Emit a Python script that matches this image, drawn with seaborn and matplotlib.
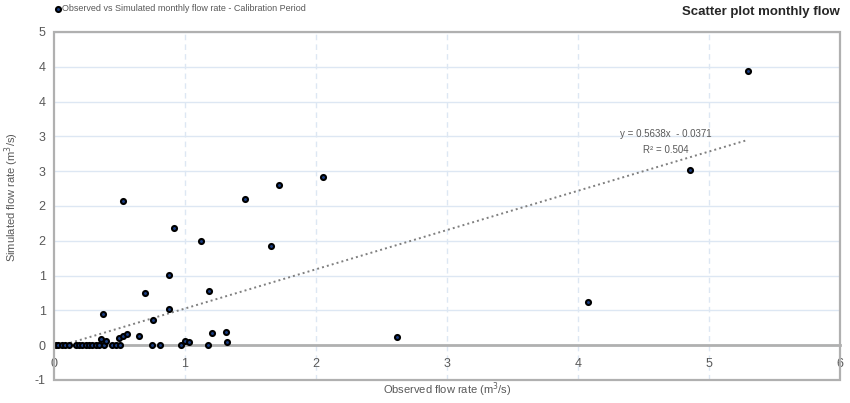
import numpy as np
import pandas as pd
import matplotlib
matplotlib.use("Agg")
import matplotlib.pyplot as plt
from matplotlib.patches import Rectangle
import seaborn as sns

# Monthly flow rates for the calibration period (m3/s)
observed = [0.013, 0.033, 0.059, 0.084, 0.115, 0.171, 0.191, 0.211, 0.247, 0.267,
            0.293, 0.318, 0.343, 0.385, 0.446, 0.471, 0.502, 0.746, 0.810, 0.973,
            1.178, 0.359, 0.395, 0.496, 0.527, 0.560, 0.652, 0.753, 0.372, 0.878,
            0.695, 1.186, 0.876, 1.122, 1.659, 0.916, 0.530, 1.458, 1.720, 2.056,
            4.860, 5.300, 4.076, 2.616, 1.206, 1.316, 1.323, 1.000, 1.030]
simulated = [0.0, 0.0, 0.0, 0.0, 0.0, 0.0, 0.0, 0.0, 0.0, 0.0,
             0.0, 0.0, 0.0, 0.0, 0.0, 0.0, 0.0, 0.0, 0.0, 0.0,
             0.0, 0.090, 0.063, 0.110, 0.134, 0.167, 0.139, 0.367, 0.443, 0.524,
             0.753, 0.780, 1.010, 1.500, 1.430, 1.686, 2.070, 2.106, 2.306, 2.420,
             2.520, 3.940, 0.624, 0.120, 0.180, 0.196, 0.040, 0.067, 0.040]

# Linear trendline reported for the series
slope = 0.5638
intercept = -0.0371
r_squared = 0.504

x_ticks = [0, 1, 2, 3, 4, 5, 6]
y_ticks = [-0.5, 0.0, 0.5, 1.0, 1.5, 2.0, 2.5, 3.0, 3.5, 4.0, 4.5]
y_tick_labels = ["-1", "0", "1", "1", "2", "2", "3", "3", "4", "4", "5"]

sns.set_style("white")
plt.rcParams["font.family"] = ["Liberation Sans", "DejaVu Sans"]

grey_txt = "#595959"
grid_col = "#dde7f3"
frame_col = "#b0b0b0"

df = pd.DataFrame({"obs": observed, "sim": simulated})

fig = plt.figure(figsize=(8.5, 4.03), dpi=100)
ax = fig.add_axes([0.0635, 0.0571, 0.9245, 0.8635])

# Gridlines
for yv in y_ticks[1:]:
    ax.axhline(yv, color=grid_col, lw=1.0, zorder=0)
for xv in x_ticks[1:-1]:
    ax.axvline(xv, color=grid_col, lw=1.0, ls=(0, (4, 3)), zorder=0)

# Trendline
x_line = np.array([df["obs"].min(), df["obs"].max()])
trend = pd.DataFrame({"x": x_line, "y": slope * x_line + intercept})
sns.lineplot(data=trend, x="x", y="y", ax=ax, color="#7f7f7f", lw=1.4,
             linestyle=(0, (1, 1.6)), zorder=3)

sns.scatterplot(data=df, x="obs", y="sim", ax=ax, s=13, color="#1c3f86",
                edgecolor="black", linewidth=1.5, zorder=4, legend=False)

ax.set_xlim(0, 6)
ax.set_ylim(-0.5, 4.5)
ax.set_xticks(x_ticks)
ax.set_xticklabels([str(t) for t in x_ticks])
ax.set_yticks(y_ticks)
ax.set_yticklabels(y_tick_labels)
ax.tick_params(axis="both", length=0, labelsize=9, labelcolor=grey_txt)
ax.tick_params(axis="x", pad=9)
ax.tick_params(axis="y", pad=6)

# Horizontal axis crosses at zero; plot-area frame drawn separately
for side in ["top", "right", "left"]:
    ax.spines[side].set_visible(False)
ax.spines["bottom"].set_position(("data", 0))
ax.spines["bottom"].set_color(frame_col)
ax.spines["bottom"].set_linewidth(2.0)
ax.spines["bottom"].set_zorder(2)
ax.add_patch(Rectangle((0, 0), 1, 1, transform=ax.transAxes, fill=False,
                       edgecolor=frame_col, lw=1.6, clip_on=False, zorder=5))

ax.set_xlabel("")
ax.set_ylabel("")
fig.text(0.526, 0.032, "Observed flow rate (m$^3$/s)", ha="center", va="center",
         fontsize=8, color=grey_txt)
fig.text(0.014, 0.51, "Simulated flow rate (m$^3$/s)", ha="center", va="center",
         rotation=90, fontsize=8, color=grey_txt)

# Trendline equation
ax.text(4.67, 3.03, "y = 0.5638x  - 0.0371", ha="center", va="center",
        fontsize=7, color=grey_txt)
ax.text(4.67, 2.8, f"R\u00b2 = {r_squared}", ha="center", va="center",
        fontsize=7, color=grey_txt)

# Legend entry and title
ax.scatter([0.005], [1.066], s=13, color="#1c3f86", edgecolor="black",
           linewidth=1.5, transform=ax.transAxes, clip_on=False)
fig.text(0.073, 0.978, "Observed vs Simulated monthly flow rate - Calibration Period",
         ha="left", va="center", fontsize=6.5, color=grey_txt)
fig.text(0.988, 0.971, "Scatter plot monthly flow", ha="right", va="center",
         fontsize=9.5, fontweight="bold", color="#262626")

fig.savefig("out.png", dpi=100)
